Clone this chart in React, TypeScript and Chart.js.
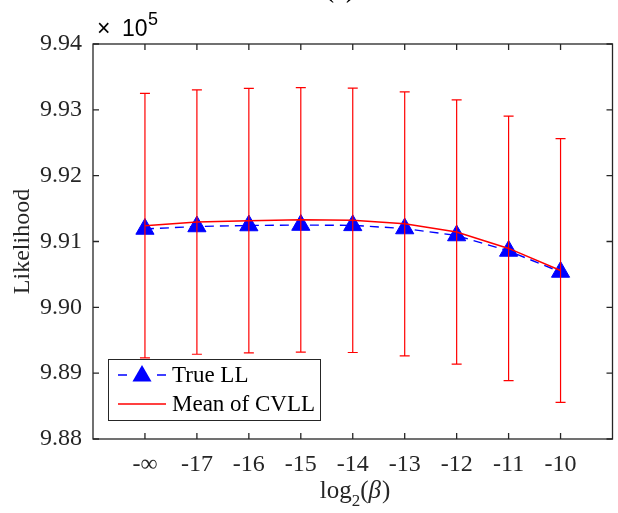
import React, { useEffect, useRef } from 'react';
import { Chart, registerables } from 'chart.js';

Chart.register(...registerables);

// ---- data ----
const categories = ['-∞', '-17', '-16', '-15', '-14', '-13', '-12', '-11', '-10'];
const trueLL = [991190, 991228, 991243, 991250, 991245, 991197, 991091, 990856, 990537];
const meanCVLL = [991241, 991295, 991317, 991329, 991322, 991269, 991144, 990895, 990559];
const stdCVLL = [2008, 2008, 2008, 2008, 2008, 2005, 2008, 2008, 2004];
const yTicks = [988000, 989000, 990000, 991000, 992000, 993000, 994000];
const seriesNames = ['True LL', 'Mean of CVLL'];
const yAxisTitle = 'Likelihood';
const xAxisTitleBase = 'log';
const xAxisTitleSub = '2';
const xAxisTitleArg = 'β';
const exponentBase = '10';
const exponentPower = '5';
const chartTitle = '(a)';

const AXIS = '#262626';
const SERIF = '"Liberation Serif", "Times New Roman", serif';
const SANS = '"Liberation Sans", Arial, sans-serif';

function drawTriangle(ctx: CanvasRenderingContext2D, x: number, y: number, r: number) {
  ctx.beginPath();
  let a = 0;
  ctx.moveTo(x + Math.sin(a) * r, y - Math.cos(a) * r);
  a += (2 * Math.PI) / 3;
  ctx.lineTo(x + Math.sin(a) * r, y - Math.cos(a) * r);
  a += (2 * Math.PI) / 3;
  ctx.lineTo(x + Math.sin(a) * r, y - Math.cos(a) * r);
  ctx.closePath();
  ctx.fill();
}

const matlabPlugin = {
  id: 'matlabLook',
  afterDatasetsDraw(chart: any) {
    const { ctx, scales } = chart;
    const x = scales.x;
    const y = scales.y;
    ctx.save();
    ctx.strokeStyle = '#ff0000';
    ctx.lineWidth = 1.2;
    meanCVLL.forEach((m, i) => {
      const px = x.getPixelForValue(i);
      const top = y.getPixelForValue(m + stdCVLL[i]);
      const bot = y.getPixelForValue(m - stdCVLL[i]);
      ctx.beginPath();
      ctx.moveTo(px, top);
      ctx.lineTo(px, bot);
      ctx.moveTo(px - 5, top);
      ctx.lineTo(px + 5, top);
      ctx.moveTo(px - 5, bot);
      ctx.lineTo(px + 5, bot);
      ctx.stroke();
    });
    ctx.restore();
  },
  afterDraw(chart: any) {
    const { ctx, chartArea: a, scales } = chart;
    const x = scales.x;
    const y = scales.y;
    ctx.save();
    // box
    ctx.strokeStyle = AXIS;
    ctx.lineWidth = 1.3;
    ctx.strokeRect(a.left, a.top, a.right - a.left, a.bottom - a.top);
    // ticks (inward)
    const tl = 6;
    ctx.beginPath();
    categories.forEach((_, i) => {
      const px = x.getPixelForValue(i);
      ctx.moveTo(px, a.bottom);
      ctx.lineTo(px, a.bottom - tl);
      ctx.moveTo(px, a.top);
      ctx.lineTo(px, a.top + tl);
    });
    yTicks.forEach((v) => {
      const py = y.getPixelForValue(v);
      ctx.moveTo(a.left, py);
      ctx.lineTo(a.left + tl, py);
      ctx.moveTo(a.right, py);
      ctx.lineTo(a.right - tl, py);
    });
    ctx.stroke();

    // y axis title
    ctx.fillStyle = AXIS;
    ctx.font = `24px ${SERIF}`;
    ctx.textAlign = 'center';
    ctx.textBaseline = 'middle';
    ctx.save();
    ctx.translate(23, (a.top + a.bottom) / 2);
    ctx.rotate(-Math.PI / 2);
    ctx.fillText(yAxisTitle, 0, 0);
    ctx.restore();

    // x axis title: log_2(β)
    ctx.textAlign = 'left';
    ctx.textBaseline = 'alphabetic';
    const base = `25px ${SERIF}`;
    const sub = `17px ${SERIF}`;
    const ital = `italic 25px ${SERIF}`;
    ctx.font = base;
    const w1 = ctx.measureText(xAxisTitleBase).width;
    ctx.font = sub;
    const w2 = ctx.measureText(xAxisTitleSub).width;
    ctx.font = base;
    const wp = ctx.measureText('(').width;
    const wpc = ctx.measureText(')').width;
    ctx.font = ital;
    const wb = ctx.measureText(xAxisTitleArg).width;
    const total = w1 + w2 + wp + wb + wpc + 1;
    let cx = 355 - total / 2;
    const by = 498;
    ctx.font = base;
    ctx.fillText(xAxisTitleBase, cx, by);
    cx += w1;
    ctx.font = sub;
    ctx.fillText(xAxisTitleSub, cx, by + 8);
    cx += w2;
    ctx.font = base;
    ctx.fillText('(', cx, by);
    cx += wp;
    ctx.font = ital;
    ctx.fillText(xAxisTitleArg, cx, by);
    cx += wb + 1;
    ctx.font = base;
    ctx.fillText(')', cx, by);

    // exponent label
    ctx.fillStyle = '#000';
    ctx.font = `23px ${SANS}`;
    ctx.fillText('×', 97, 36);
    ctx.fillText(exponentBase, 122, 36);
    ctx.font = `18px ${SANS}`;
    ctx.fillText(exponentPower, 148, 25);

    // title (cut off at top)
    ctx.font = `bold 24px ${SERIF}`;
    ctx.textAlign = 'center';
    ctx.fillText(chartTitle, 340, -2);

    // legend
    const lx = 108.5, ly = 359.5, lw = 212, lh = 61;
    ctx.fillStyle = '#fff';
    ctx.fillRect(lx, ly, lw, lh);
    ctx.strokeStyle = AXIS;
    ctx.lineWidth = 1;
    ctx.strokeRect(lx, ly, lw, lh);
    const y1 = 375, y2 = 404;
    ctx.strokeStyle = '#0000ff';
    ctx.lineWidth = 1.4;
    ctx.beginPath();
    ctx.moveTo(118, y1);
    ctx.lineTo(127, y1);
    ctx.moveTo(157, y1);
    ctx.lineTo(166, y1);
    ctx.stroke();
    ctx.fillStyle = '#0000ff';
    drawTriangle(ctx, 142, y1 + 1, 11);
    ctx.strokeStyle = '#ff0000';
    ctx.lineWidth = 1.4;
    ctx.beginPath();
    ctx.moveTo(118, y2);
    ctx.lineTo(166, y2);
    ctx.stroke();
    ctx.fillStyle = '#000';
    ctx.font = `23px ${SERIF}`;
    ctx.textAlign = 'left';
    ctx.textBaseline = 'middle';
    ctx.fillText(seriesNames[0], 172, y1 + 1);
    ctx.fillText(seriesNames[1], 172, y2 + 1);
    ctx.restore();
  },
};

export default function App() {
  const ref = useRef<HTMLCanvasElement | null>(null);
  useEffect(() => {
    if (!ref.current) return;
    const chart = new Chart(ref.current, {
      type: 'line',
      data: {
        datasets: [
          {
            label: seriesNames[0],
            data: trueLL.map((v, i) => ({ x: i, y: v })),
            borderColor: '#0000ff',
            borderWidth: 1.4,
            borderDash: [9, 6],
            pointStyle: 'triangle',
            pointRadius: 10.5,
            pointBackgroundColor: '#0000ff',
            pointBorderColor: '#0000ff',
            pointBorderWidth: 1,
            tension: 0,
            fill: false,
            order: 1,
          },
          {
            label: seriesNames[1],
            data: meanCVLL.map((v, i) => ({ x: i, y: v })),
            borderColor: '#ff0000',
            borderWidth: 1.5,
            pointRadius: 0,
            tension: 0,
            fill: false,
            order: 0,
          },
        ],
      },
      options: {
        animation: false,
        responsive: false,
        maintainAspectRatio: false,
        layout: { padding: { top: 44, right: 3, left: 0, bottom: 0 } },
        plugins: {
          legend: { display: false },
          tooltip: { enabled: false },
          title: { display: false },
        },
        scales: {
          x: {
            type: 'linear',
            min: -1,
            max: 9,
            grid: { display: false },
            border: { display: false },
            afterBuildTicks: (scale: any) => {
              scale.ticks = categories.map((_, i) => ({ value: i }));
            },
            afterFit: (scale: any) => {
              scale.height = 74;
            },
            ticks: {
              autoSkip: false,
              maxRotation: 0,
              padding: 3,
              color: AXIS,
              font: { family: SERIF, size: 24 },
              callback: (v: any) => categories[Math.round(Number(v))] ?? '',
            },
          },
          y: {
            type: 'linear',
            min: yTicks[0],
            max: yTicks[yTicks.length - 1],
            grid: { display: false, drawTicks: false },
            border: { display: false },
            afterBuildTicks: (scale: any) => {
              scale.ticks = yTicks.map((v) => ({ value: v }));
            },
            afterFit: (scale: any) => {
              scale.width = 93;
            },
            ticks: {
              padding: 11,
              color: AXIS,
              font: { family: SERIF, size: 24 },
              callback: (v: any) => (Number(v) / 1e5).toFixed(2),
            },
          },
        },
      },
      plugins: [matlabPlugin],
    } as any);
    return () => chart.destroy();
  }, []);

  return (
    <div
      style={{
        position: 'fixed',
        left: 0,
        top: 0,
        width: 618,
        height: 513,
        overflow: 'hidden',
        background: '#fff',
      }}
    >
      <canvas ref={ref} width={624} height={513} style={{ width: 624, height: 513, display: 'block' }} />
    </div>
  );
}
